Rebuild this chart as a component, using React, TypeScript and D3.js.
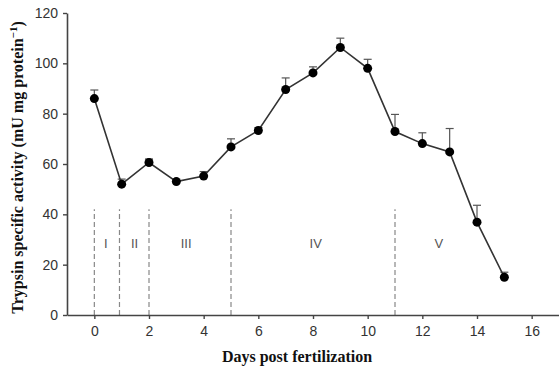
import React, { useEffect, useRef } from 'react';
import * as d3 from 'd3';

// Days post fertilization and trypsin activity (mean, upper error)
const days = [0, 1, 2, 3, 4, 5, 6, 7, 8, 9, 10, 11, 12, 13, 14, 15];
const activity = [86, 52, 60.6, 53, 55.2, 66.8, 73.3, 89.6, 96.2, 106.3, 98, 72.9, 68.1, 64.8, 36.9, 15];
const errorTop = [89.4, 54, 62, 54, 57, 70, 74.5, 94.2, 98.6, 110, 101.6, 79.7, 72.4, 74.1, 43.6, 17];

const stageLines = [0, 0.92, 2, 5, 11];
const stageLabels = ['I', 'II', 'III', 'IV', 'V'];
const stageLabelX = [0.42, 1.47, 3.36, 8.1, 12.6];

const xTicks = [0, 2, 4, 6, 8, 10, 12, 14, 16];
const yTicks = [0, 20, 40, 60, 80, 100, 120];

const App = () => {
  const ref = useRef<SVGSVGElement>(null);

  useEffect(() => {
    const svg = d3.select(ref.current);
    svg.selectAll('*').remove();

    const margin = { top: 13, right: 0, bottom: 53, left: 67 };
    const W = 559, H = 368;
    const x = d3.scaleLinear().domain([-1, 17]).range([margin.left, W - margin.right]);
    const y = d3.scaleLinear().domain([0, 120]).range([H - margin.bottom, margin.top]);

    const tickFont = 'Liberation Sans, Arial, sans-serif';
    const serif = 'Liberation Serif, Times New Roman, serif';
    const axisColor = '#444';

    // stage dashed lines
    svg.append('g')
      .selectAll('line')
      .data(stageLines)
      .enter().append('line')
      .attr('x1', (d) => x(d)).attr('x2', (d) => x(d))
      .attr('y1', y(0)).attr('y2', y(42))
      .attr('stroke', '#888')
      .attr('stroke-width', 1.2)
      .attr('stroke-dasharray', '5,3');

    svg.append('g')
      .selectAll('text')
      .data(stageLabels)
      .enter().append('text')
      .attr('x', (d, i) => x(stageLabelX[i]))
      .attr('y', y(28.5) + 5)
      .attr('text-anchor', 'middle')
      .attr('font-family', tickFont)
      .attr('font-size', 13)
      .attr('fill', '#555')
      .text((d) => d);

    // axes
    const xAxis = svg.append('g')
      .attr('transform', `translate(0,${y(0)})`)
      .call(d3.axisBottom(x).tickValues(xTicks).tickSize(4).tickSizeOuter(0).tickPadding(7));
    const yAxis = svg.append('g')
      .attr('transform', `translate(${margin.left},0)`)
      .call(d3.axisLeft(y).tickValues(yTicks).tickSize(4).tickSizeOuter(0).tickPadding(5));

    [xAxis, yAxis].forEach((g) => {
      g.select('.domain').attr('stroke', axisColor).attr('stroke-width', 1.6);
      g.selectAll('.tick line').attr('stroke', axisColor).attr('stroke-width', 1.4);
      g.selectAll('.tick text')
        .attr('font-family', tickFont)
        .attr('font-size', 14)
        .attr('fill', '#333');
    });

    // error bars (upper only)
    const eb = svg.append('g').attr('stroke', '#555').attr('stroke-width', 1.2);
    days.forEach((d, i) => {
      eb.append('line')
        .attr('x1', x(d)).attr('x2', x(d))
        .attr('y1', y(activity[i])).attr('y2', y(errorTop[i]));
      eb.append('line')
        .attr('x1', x(d) - 4).attr('x2', x(d) + 4)
        .attr('y1', y(errorTop[i])).attr('y2', y(errorTop[i]));
    });

    // line
    const line = d3.line<number>()
      .x((d, i) => x(days[i]))
      .y((d) => y(d));
    svg.append('path')
      .datum(activity)
      .attr('d', line)
      .attr('fill', 'none')
      .attr('stroke', '#333')
      .attr('stroke-width', 1.6);

    svg.append('g')
      .selectAll('circle')
      .data(activity)
      .enter().append('circle')
      .attr('cx', (d, i) => x(days[i]))
      .attr('cy', (d) => y(d))
      .attr('r', 4.5)
      .attr('fill', '#000');

    // axis titles
    svg.append('text')
      .attr('x', 297)
      .attr('y', 362)
      .attr('text-anchor', 'middle')
      .attr('font-family', serif)
      .attr('font-weight', 'bold')
      .attr('font-size', 16)
      .attr('fill', '#111')
      .text('Days post fertilization');

    const yl = svg.append('text')
      .attr('transform', `translate(23,${(y(0) + 20) / 2}) rotate(-90)`)
      .attr('text-anchor', 'middle')
      .attr('font-family', serif)
      .attr('font-weight', 'bold')
      .attr('font-size', 16)
      .attr('fill', '#111');
    yl.append('tspan').text('Trypsin specific activity (mU mg protein');
    yl.append('tspan').attr('font-size', 11).attr('dy', -6).text('−1');
    yl.append('tspan').attr('dy', 6).text(')');
  }, []);

  return (
    <svg
      ref={ref}
      width={559}
      height={368}
      style={{ position: 'absolute', left: 0, top: 0, background: '#fff' }}
    />
  );
};

export default App;
